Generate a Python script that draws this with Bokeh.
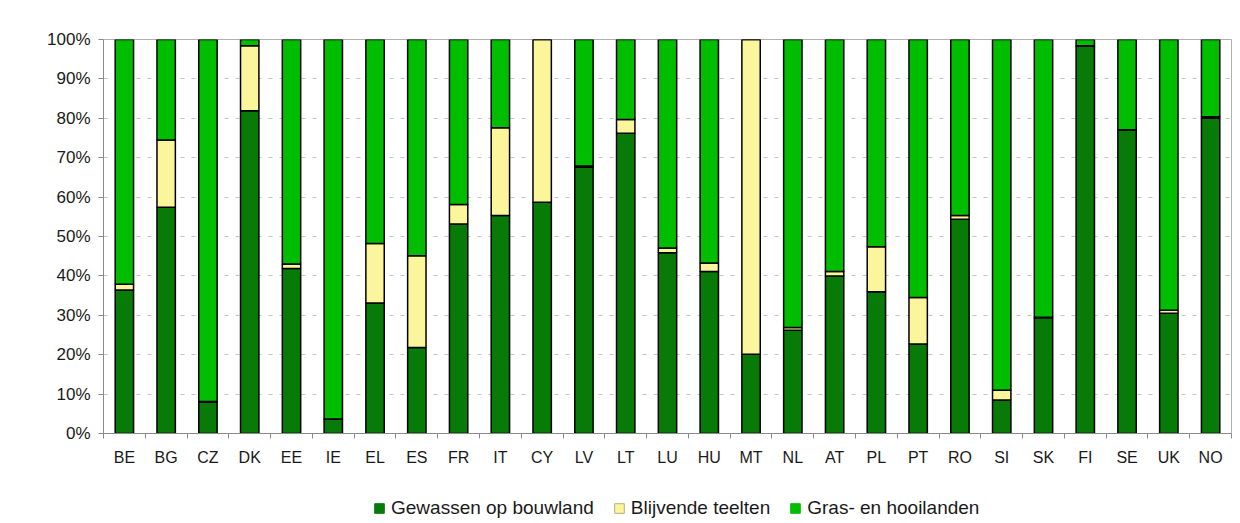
from bokeh.plotting import figure
from bokeh.layouts import column
from bokeh.models import FixedTicker, PrintfTickFormatter, Range1d, Legend, LegendItem, ColumnDataSource
from bokeh.embed import file_html
from bokeh.resources import INLINE

countries = ["BE", "BG", "CZ", "DK", "EE", "IE", "EL", "ES", "FR", "IT", "CY", "LV", "LT", "LU",
             "HU", "MT", "NL", "AT", "PL", "PT", "RO", "SI", "SK", "FI", "SE", "UK", "NO"]
arable = [36.4, 57.4, 8.0, 81.9, 41.9, 3.6, 33.1, 21.8, 53.2, 55.3, 58.7, 67.6, 76.2, 45.9,
          41.1, 20.1, 26.2, 40.0, 36.0, 22.7, 54.4, 8.5, 29.4, 98.3, 77.0, 30.5, 80.1]
permanent = [1.5, 17.1, 0.1, 16.5, 1.1, 0.1, 15.1, 23.3, 4.9, 22.3, 41.3, 0.3, 3.5, 1.2,
             2.2, 79.9, 0.7, 1.1, 11.4, 11.8, 0.9, 2.5, 0.1, 0.1, 0.1, 0.8, 0.3]
grass = [62.1, 25.5, 91.9, 1.6, 57.0, 96.3, 51.8, 54.9, 41.9, 22.4, 0.0, 32.1, 20.3, 52.9,
         56.7, 0.0, 73.1, 58.9, 52.6, 65.5, 44.7, 89.0, 70.5, 1.6, 22.9, 68.7, 19.6]
series_names = ["Gewassen op bouwland", "Blijvende teelten", "Gras- en hooilanden"]
y_ticks = [0, 10, 20, 30, 40, 50, 60, 70, 80, 90, 100]

colors = ["#077A07", "#FBF59C", "#00BD00"]
legend_lines = ["#077A07", "#B5B080", "#00BD00"]

n = len(countries)
xpos = [i + 0.5 for i in range(n)]
src = ColumnDataSource(dict(x=xpos, arable=arable, permanent=permanent, grass=grass))

p = figure(width=1232, height=470, output_backend="svg", toolbar_location=None,
           x_range=Range1d(0, n), y_range=Range1d(0, 100),
           min_border_left=103, min_border_right=1, min_border_top=39, min_border_bottom=37)

p.vbar_stack(["arable", "permanent", "grass"], x="x", width=0.44, source=src,
             fill_color=colors, line_color="black", line_width=1.5)

# axes
p.xaxis.ticker = FixedTicker(ticks=xpos, minor_ticks=[i for i in range(n + 1)])
p.xaxis.major_label_overrides = {x: c for x, c in zip(xpos, countries)}
p.xaxis.major_tick_out = 0
p.xaxis.major_tick_in = 0
p.xaxis.minor_tick_out = 5
p.xaxis.minor_tick_in = 0
p.xaxis.minor_tick_line_color = "#8a8a8a"
p.xaxis.major_label_standoff = 10
p.xaxis.major_label_text_font = "Liberation Sans"
p.xaxis.major_label_text_font_size = "16px"
p.xaxis.major_label_text_color = "#1a1a1a"
p.xaxis.axis_line_color = "#8a8a8a"

p.yaxis.ticker = FixedTicker(ticks=y_ticks)
p.yaxis.formatter = PrintfTickFormatter(format="%d%%")
p.yaxis.major_tick_out = 5
p.yaxis.major_tick_in = 0
p.yaxis.minor_tick_line_color = None
p.yaxis.major_tick_line_color = "#8a8a8a"
p.yaxis.axis_line_color = "#8a8a8a"
p.yaxis.major_label_standoff = 8
p.yaxis.major_label_text_font = "Liberation Sans"
p.yaxis.major_label_text_font_size = "17px"
p.yaxis.major_label_text_color = "#1a1a1a"

p.xgrid.grid_line_color = None
p.ygrid.grid_line_color = "#c4c4c4"
p.ygrid.grid_line_dash = "4 7"
p.ygrid.grid_line_width = 1

p.outline_line_color = "#b0b0b0"
p.outline_line_width = 1
p.background_fill_color = "white"
p.border_fill_color = "white"

# legend in its own strip below the chart
lg = figure(width=1232, height=53, output_backend="svg", toolbar_location=None,
            x_range=Range1d(0, 1), y_range=Range1d(0, 1),
            x_axis_location=None, y_axis_location=None,
            min_border_left=0, min_border_right=0, min_border_top=0, min_border_bottom=0)
lg.grid.grid_line_color = None
lg.outline_line_color = None
lg.background_fill_color = "white"
lg.border_fill_color = "white"

proxies = []
for c, lc in zip(colors, legend_lines):
    # proxy boxes lie outside the visible range; only their legend swatches show
    r = lg.quad(left=[5], right=[6], top=[6], bottom=[5], fill_color=c, line_color=lc, line_width=1)
    proxies.append(r)
legend = Legend(items=[LegendItem(label=nm, renderers=[r]) for nm, r in zip(series_names, proxies)],
                orientation="horizontal", location=(270, 4), padding=0, margin=0,
                spacing=19, label_standoff=6, glyph_width=12, glyph_height=12,
                label_text_font="Liberation Sans", label_text_font_size="19px",
                label_text_color="#1a1a1a", label_height=16,
                background_fill_alpha=0, border_line_alpha=0)
lg.add_layout(legend, "center")

layout = column(p, lg, spacing=0)
open("out.html", "w").write(file_html(layout, INLINE))
